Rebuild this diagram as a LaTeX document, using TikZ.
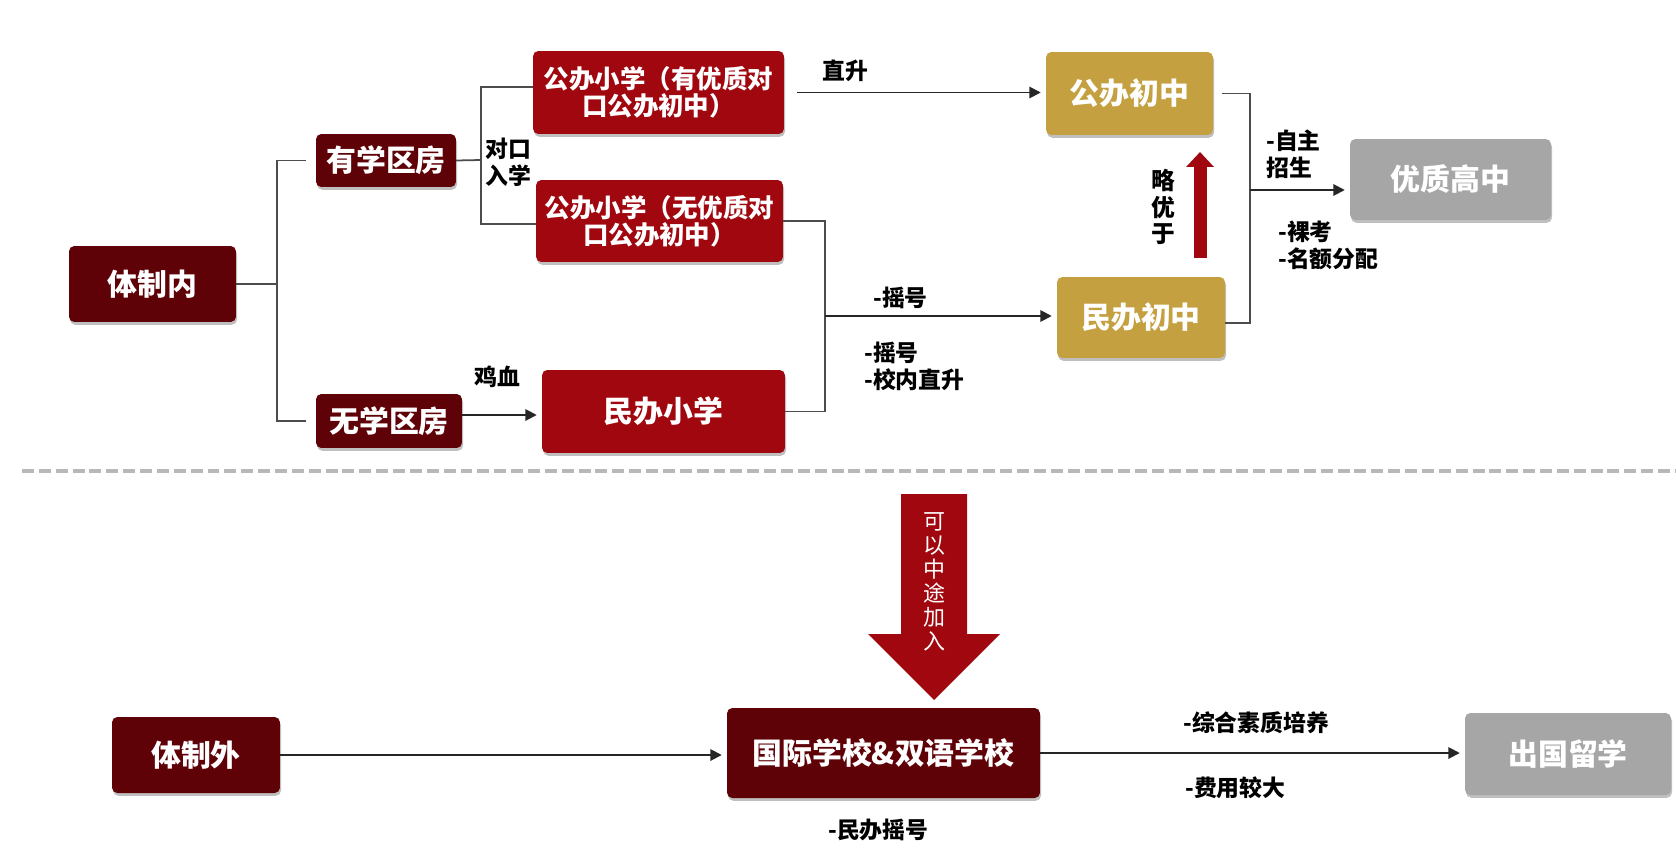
\documentclass[tikz,border=0pt]{standalone}
\usepackage{fontspec}
\setmainfont{Noto Sans CJK SC}
\usepackage{tikz}
\usetikzlibrary{arrows.meta,shadows}

\definecolor{deepred}{HTML}{5F0208}
\definecolor{schoolred}{HTML}{A0070F}
\definecolor{ochre}{HTML}{C4A040}
\definecolor{paleGrey}{HTML}{A6A6A6}

\tikzset{
  schoolbox/.style={rectangle,rounded corners=3pt,inner sep=0pt,outer sep=0pt,
    text=white,align=center,font=\fontsize{17}{19}\selectfont\bfseries,
    drop shadow={shadow xshift=0.6pt,shadow yshift=-1.6pt,fill=black,opacity=0.25}},
  darkbox/.style={schoolbox,fill=deepred},
  redbox/.style={schoolbox,fill=schoolred},
  goldbox/.style={schoolbox,fill=ochre},
  greybox/.style={schoolbox,fill=paleGrey},
  note/.style={inner sep=0pt,align=left,font=\fontsize{13}{15.3}\selectfont\bfseries},
  link/.style={draw=black!70,line width=1pt},
  flow/.style={color=black!85,line width=1.1pt,shorten >=3pt,
    -{Triangle[length=6.5pt,width=6.5pt]}},
}

\begin{document}
\begin{tikzpicture}[x=0.02cm,y=-0.02cm]
  \useasboundingbox (0,0) rectangle (1676,848);

  % inside the system
  \node at (152.5,284) (tzn) [darkbox,minimum width=3.34cm,minimum height=1.52cm] {体制内};
  \node at (386,160.5) (yxq) [darkbox,minimum width=2.8cm,minimum height=1.06cm] {有学区房};
  \node at (389,421) (wxq) [darkbox,minimum width=2.92cm,minimum height=1.08cm] {无学区房};
  \node at (658.5,92.5) (gbxx1) [redbox,minimum width=5.02cm,minimum height=1.66cm,
    font=\fontsize{14.5}{15.5}\selectfont\bfseries] {公办小学（有优质对\\口公办初中）};
  \node at (659.5,221) (gbxx2) [redbox,minimum width=4.94cm,minimum height=1.64cm,
    font=\fontsize{14.5}{15.5}\selectfont\bfseries] {公办小学（无优质对\\口公办初中）};
  \node at (663.5,411.5) (mbxx) [redbox,minimum width=4.86cm,minimum height=1.66cm] {民办小学};
  \node at (1129.5,93.5) (gbcz) [goldbox,minimum width=3.34cm,minimum height=1.66cm] {公办初中};
  \node at (1141,317.5) (mbcz) [goldbox,minimum width=3.36cm,minimum height=1.62cm] {民办初中};
  \node at (1450.5,179.5) (yzgz) [greybox,minimum width=4.02cm,minimum height=1.62cm] {优质高中};

  \coordinate (jA) at (277,284);
  \coordinate (jB) at (481,160);
  \coordinate (jC) at (825,316);
  \coordinate (jD) at (1250,190);
  \coordinate (wxqOut) at ([yshift=0.12cm]wxq.east);
  \coordinate (gbxxOut) at ([xshift=0.26cm]gbxx1.east);

  \draw[link] (tzn.east) -- (jA);
  \draw[link] ([xshift=-0.2cm]yxq.west) -| (jA) |- ([xshift=-0.2cm]wxq.west);
  \draw[link] (yxq.east) -- (jB);
  \draw[link] ([yshift=0.11cm]gbxx1.west) -| (jB) |- ([yshift=-0.06cm]gbxx2.west);
  \draw[link] (gbxx2.east) -| (jC) |- (mbxx.east);
  \draw[link] ([xshift=0.18cm]gbcz.east) -| (jD) |- ([yshift=-0.11cm]mbcz.east);

  \path[flow]
        (gbxxOut) edge (gbxxOut -| gbcz.west)
        (wxqOut) edge (wxqOut -| mbxx.west)
        (jC) edge (jC -| mbcz.west)
        (jD) edge (jD -| yzgz.west)
        ;

  \node at (485,162) (dkrx) [note,anchor=west] {对口\\入学};
  \node at (845,71) (zs) [note] {直升};
  \node at (497,377) (jx) [note] {鸡血};
  \node at (873,298) (yh) [note,anchor=west] {-摇号};
  \node at (864,366) (yhzs) [note,anchor=west] {-摇号\\-校内直升};
  \node at (1266,154) (zzzs) [note,anchor=west] {-自主\\招生};
  \node at (1278,245.5) (lkme) [note,anchor=west] {-裸考\\-名额分配};

  % slightly better
  \coordinate (lyA) at (1200,258);
  \coordinate (lyB) at (1200,152);
  \draw[schoolred,line width=0.26cm,-{Triangle[length=0.3cm,width=0.54cm]}] (lyA) -- (lyB);
  \node at (1163,207) (ly) [note,align=center,font=\fontsize{13.5}{15.3}\selectfont\bfseries] {略\\优\\于};

  % separator
  \draw[draw=black!28,line width=2pt,dash pattern=on 6.8pt off 2.8pt] (22,471) -- (1676,471);

  % outside the system
  \node at (196,755) (tzw) [darkbox,minimum width=3.36cm,minimum height=1.52cm] {体制外};
  \node at (883.5,753) (gjxx) [darkbox,minimum width=6.26cm,minimum height=1.8cm] {国际学校\&双语学校};
  \node at (1568,754) (cglx) [greybox,minimum width=4.12cm,minimum height=1.64cm] {出国留学};

  \fill[schoolred] (901,494) -- (967,494) -- (967,634) -- (1000,634) -- (934,700)
    -- (868,634) -- (901,634) -- cycle;
  \node at (934,582) (ztjr) [inner sep=0pt,align=center,text=white,
    font=\fontsize{12.5}{13.6}\selectfont] {可\\以\\中\\途\\加\\入};

  \path[flow]
        (tzw.east) edge (tzw.east -| gjxx.west)
        (gjxx.east) edge (gjxx.east -| cglx.west)
        ;

  \node at (1183,723) (zhsz) [note,anchor=west] {-综合素质培养};
  \node at (1185,788) (fyjd) [note,anchor=west] {-费用较大};
  \node at (828,830) (mbyh) [note,anchor=west] {-民办摇号};
\end{tikzpicture}
\end{document}
